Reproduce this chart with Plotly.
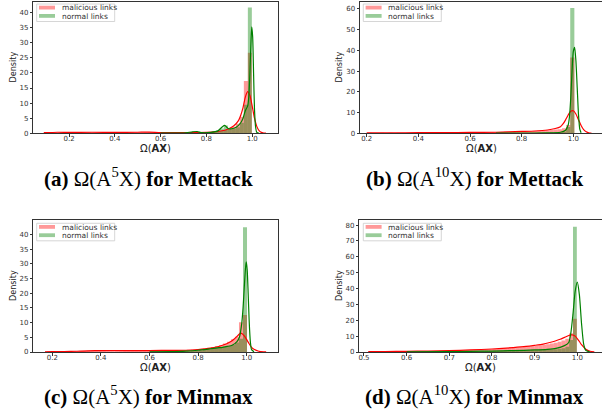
import numpy as np
import plotly.graph_objects as go

W, H = 602, 419

# ---------------- data ----------------
# (a) Omega(A^5 X) for Mettack
a_bin_start, a_bin_width = 0.09725, 0.0175
a_mal_hist = [0.2, 0.3, 0.25, 0.3, 0.35, 0.3, 0.25, 0.3, 0.35, 0.3,
              0.3, 0.35, 0.3, 0.25, 0.3, 0.35, 0.3, 0.3, 0.25, 0.3,
              0.35, 0.3, 0.3, 0.35, 0.3, 0.35, 0.4, 0.35, 0.3, 0.25,
              0.2, 0.25, 0.2, 0.2, 0.25, 0.2, 0.25, 0.3, 0.3, 0.3,
              0.35, 0.4, 0.5, 0.6, 0.8, 1.1, 1.6, 2.2, 3.2, 5.5, 17.3, 26.7]
a_nor_hist = [0] * 34 + [0.05, 0.1, 0.3, 0.6, 0.3, 0.1,
              0.2, 0.3, 0.6, 1.0, 1.6, 2.6, 1.6, 1.5, 2.0, 3.5, 9.5, 41.7]
a_mal_kde_x = [0.09, 0.15, 0.2, 0.3, 0.4, 0.5, 0.55, 0.6, 0.7, 0.8, 0.85, 0.88, 0.9, 0.92, 0.94,
               0.95, 0.96, 0.97, 0.98, 0.99, 1.0, 1.01, 1.02, 1.03, 1.04, 1.05, 1.06]
a_mal_kde_y = [0.2, 0.35, 0.3, 0.35, 0.3, 0.35, 0.4, 0.25, 0.2, 0.3, 0.6, 1.0, 1.6, 2.5, 4.2,
               6.0, 8.5, 12.0, 13.8, 12.5, 9.0, 5.0, 2.3, 0.9, 0.3, 0.1, 0.03]
a_nor_kde_x = [0.6, 0.7, 0.74, 0.76, 0.78, 0.82, 0.85, 0.87, 0.88, 0.895, 0.91, 0.93, 0.95, 0.96,
               0.97, 0.98, 0.985, 0.99, 0.995, 0.998, 1.002, 1.006, 1.01, 1.015, 1.02, 1.03]
a_nor_kde_y = [0.05, 0.1, 0.5, 0.6, 0.2, 0.3, 0.8, 2.2, 2.6, 1.6, 1.5, 2.0, 3.5, 5.0,
               7.5, 9.0, 12.0, 20.0, 31.0, 35.3, 32.0, 20.0, 8.0, 2.0, 0.3, 0.0]

# (b) Omega(A^10 X) for Mettack
b_bin_start, b_bin_width = 0.196, 0.016
b_mal_hist = [0.2, 0.25, 0.2, 0.2, 0.25, 0.2, 0.25, 0.2, 0.25, 0.3,
              0.25, 0.3, 0.25, 0.3, 0.3, 0.35, 0.3, 0.3, 0.35, 0.3,
              0.35, 0.4, 0.35, 0.4, 0.4, 0.45, 0.4, 0.45, 0.5, 0.5,
              0.55, 0.6, 0.6, 0.65, 0.7, 0.8, 0.8, 0.85, 0.9, 1.0,
              1.0, 1.1, 1.2, 1.3, 1.5, 1.6, 1.8, 2.0, 2.4, 4.0, 36.6]
b_nor_hist = [0] * 32 + [0.05, 0.05, 0.1, 0.1, 0.1, 0.15, 0.15, 0.2,
              0.2, 0.2, 0.25, 0.3, 0.3, 0.35, 0.4, 0.5, 0.8, 3.0, 60.5]
b_mal_kde_x = [0.2, 0.3, 0.4, 0.5, 0.6, 0.7, 0.75, 0.8, 0.85, 0.9, 0.93, 0.95, 0.96, 0.97, 0.98,
               0.99, 1.0, 1.01, 1.02, 1.03, 1.04, 1.05, 1.06, 1.07]
b_mal_kde_y = [0.2, 0.25, 0.3, 0.35, 0.4, 0.5, 0.7, 0.9, 1.1, 1.6, 2.3, 3.2, 4.5, 6.5, 8.8,
               10.6, 10.9, 9.3, 6.5, 3.8, 1.8, 0.7, 0.2, 0.05]
b_nor_kde_x = [0.7, 0.8, 0.9, 0.95, 0.97, 0.98, 0.985, 0.99, 0.995, 1.0, 1.005, 1.01, 1.015,
               1.02, 1.025, 1.03]
b_nor_kde_y = [0.05, 0.1, 0.2, 0.5, 1.5, 4.0, 8.0, 17.0, 30.0, 39.5, 41.5, 35.0, 22.0,
               9.0, 2.0, 0.3]

# (c) Omega(A^5 X) for Minmax
c_bin_start, c_bin_width = 0.1845, 0.0165
c_mal_hist = [0.05, 0.1, 0.1, 0.15, 0.15, 0.2, 0.2, 0.3, 0.4, 0.45,
              0.5, 0.5, 0.55, 0.5, 0.5, 0.55, 0.5, 0.5, 0.55, 0.5,
              0.5, 0.55, 0.5, 0.5, 0.55, 0.5, 0.5, 0.55, 0.5, 0.5,
              0.55, 0.6, 0.6, 0.65, 0.7, 0.8, 0.85, 0.9, 1.0, 1.2,
              1.4, 1.7, 2.0, 2.4, 2.9, 3.5, 4.3, 5.2, 10.1, 12.6]
c_nor_hist = [0] * 30 + [0.05, 0.1, 0.1, 0.15, 0.2, 0.25, 0.3, 0.4, 0.5, 0.7,
              1.0, 1.3, 1.5, 1.6, 1.8, 2.0, 2.4, 3.2, 4.5, 42.4]
c_mal_kde_x = [0.17, 0.2, 0.25, 0.3, 0.35, 0.4, 0.5, 0.6, 0.7, 0.75, 0.8, 0.85, 0.88, 0.9, 0.92,
               0.94, 0.95, 0.96, 0.97, 0.975, 0.98, 0.99, 1.0, 1.01, 1.02, 1.03, 1.05, 1.07, 1.08]
c_mal_kde_y = [0.05, 0.1, 0.15, 0.25, 0.4, 0.5, 0.5, 0.5, 0.55, 0.6, 0.85, 1.3, 1.8, 2.3, 2.9,
               3.8, 4.5, 5.3, 6.1, 6.4, 6.3, 5.5, 4.2, 2.8, 1.6, 0.9, 0.25, 0.05, 0.02]
c_nor_kde_x = [0.6, 0.7, 0.75, 0.8, 0.85, 0.88, 0.9, 0.92, 0.94, 0.96, 0.97, 0.98, 0.985, 0.99,
               0.995, 0.998, 1.002, 1.006, 1.01, 1.015, 1.02, 1.03]
c_nor_kde_y = [0.05, 0.15, 0.3, 0.6, 1.1, 1.4, 1.6, 1.9, 2.3, 3.5, 5.0, 10.0, 15.0, 22.0,
               28.5, 30.7, 28.0, 20.0, 11.0, 3.5, 0.8, 0.05]

# (d) Omega(A^10 X) for Minmax
d_bin_start, d_bin_width = 0.5175, 0.009
d_mal_hist = [0.2, 0.25, 0.2, 0.3, 0.25, 0.3, 0.3, 0.35, 0.3, 0.4,
              0.4, 0.45, 0.5, 0.5, 0.55, 0.6, 0.65, 0.7, 0.75, 0.8,
              0.85, 0.9, 1.0, 1.05, 1.1, 1.2, 1.3, 1.4, 1.5, 1.6,
              1.7, 1.8, 1.9, 2.0, 2.2, 2.3, 2.5, 2.6, 2.8, 3.0,
              3.2, 3.4, 3.6, 3.9, 4.2, 4.5, 4.9, 5.3, 5.8, 6.4,
              7.2, 8.4, 11.8, 20.9]
d_nor_hist = [0, 0, 0, 0, 0.05, 0.05, 0.05, 0.1, 0.1, 0.1,
              0.1, 0.15, 0.15, 0.2, 0.2, 0.25, 0.25, 0.3, 0.3, 0.35,
              0.35, 0.4, 0.4, 0.45, 0.5, 0.5, 0.55, 0.6, 0.6, 0.65,
              0.7, 0.7, 0.75, 0.8, 0.85, 0.9, 0.9, 0.95, 1.0, 1.05,
              1.1, 1.15, 1.2, 1.3, 1.35, 1.4, 1.5, 1.6, 1.8, 2.0,
              2.4, 3.3, 7.5, 79.0]
d_mal_kde_x = [0.51, 0.55, 0.6, 0.65, 0.7, 0.75, 0.8, 0.85, 0.88, 0.9, 0.92, 0.94, 0.95, 0.96,
               0.97, 0.98, 0.985, 0.99, 0.995, 1.0, 1.005, 1.01, 1.02, 1.03, 1.04]
d_mal_kde_y = [0.2, 0.3, 0.4, 0.6, 0.85, 1.3, 1.9, 2.8, 3.5, 4.2, 5.0, 6.3, 7.1, 8.0,
               9.2, 10.4, 10.8, 10.7, 10.0, 8.5, 6.6, 4.6, 1.8, 0.5, 0.1]
d_nor_kde_x = [0.6, 0.7, 0.75, 0.8, 0.85, 0.9, 0.93, 0.95, 0.97, 0.98, 0.985, 0.99, 0.995, 1.0,
               1.005, 1.01, 1.015, 1.02, 1.03]
d_nor_kde_y = [0.05, 0.2, 0.4, 0.6, 0.9, 1.3, 1.7, 2.3, 4.0, 6.0, 12.0, 24.0, 38.0, 44.0,
               36.0, 18.0, 5.0, 1.0, 0.0]

x_ticks_abc = [0.2, 0.4, 0.6, 0.8, 1.0]
x_ticks_d = [0.5, 0.6, 0.7, 0.8, 0.9, 1.0]
legend_labels = ["malicious links", "normal links"]
captions = ["<b>(a)</b> Ω(A<sup>5</sup>X) <b>for Mettack</b>",
            "<b>(b)</b> Ω(A<sup>10</sup>X) <b>for Mettack</b>",
            "<b>(c)</b> Ω(A<sup>5</sup>X) <b>for Minmax</b>",
            "<b>(d)</b> Ω(A<sup>10</sup>X) <b>for Minmax</b>"]
x_title = "Ω(<b>AX</b>)"
y_title = "Density"

# ---------------- layout (page pixels) ----------------
panels = [
    dict(bin_start=a_bin_start, bin_width=a_bin_width, mal=a_mal_hist, nor=a_nor_hist,
         mkx=a_mal_kde_x, mky=a_mal_kde_y, nkx=a_nor_kde_x, nky=a_nor_kde_y,
         box=(33.3, 278.3, 1.7, 133.3), xr=[0.044, 1.114], yr=[0, 43.6],
         xt=x_ticks_abc, dy=5, right=True, cap=(148, 177), ylab_x=13, leg=(36.7, 4)),
    dict(bin_start=b_bin_start, bin_width=b_bin_width, mal=b_mal_hist, nor=b_nor_hist,
         mkx=b_mal_kde_x, mky=b_mal_kde_y, nkx=b_nor_kde_x, nky=b_nor_kde_y,
         box=(360, 602, 1.7, 133.3), xr=[0.174, 1.111], yr=[0, 63.5],
         xt=x_ticks_abc, dy=10, right=False, cap=(474, 177), ylab_x=339, leg=(363.3, 4)),
    dict(bin_start=c_bin_start, bin_width=c_bin_width, mal=c_mal_hist, nor=c_nor_hist,
         mkx=c_mal_kde_x, mky=c_mal_kde_y, nkx=c_nor_kde_x, nky=c_nor_kde_y,
         box=(33.3, 278.3, 220, 352), xr=[0.122, 1.13], yr=[0, 44.9],
         xt=x_ticks_abc, dy=5, right=True, cap=(148, 395), ylab_x=13, leg=(36.7, 223.3)),
    dict(bin_start=d_bin_start, bin_width=d_bin_width, mal=d_mal_hist, nor=d_nor_hist,
         mkx=d_mal_kde_x, mky=d_mal_kde_y, nkx=d_nor_kde_x, nky=d_nor_kde_y,
         box=(359.3, 602, 220, 352), xr=[0.489, 1.058], yr=[0, 83.2],
         xt=x_ticks_d, dy=10, right=False, cap=(474, 395), ylab_x=339, leg=(363.3, 223.3)),
]

RED_FILL = "rgba(255,0,0,0.4)"
GREEN_FILL = "rgba(0,128,0,0.4)"
RED_LINE = "rgb(255,0,0)"
GREEN_LINE = "rgb(0,128,0)"
AX_COL = "#333333"
TICK_FONT = dict(family="DejaVu Sans", size=7, color="#333333")


def px_x(v):
    return v / W


def px_y(v):
    return 1 - v / H


fig = go.Figure()
layout = dict(width=W, height=H, margin=dict(l=0, r=0, t=0, b=0, autoexpand=False),
              paper_bgcolor="white", plot_bgcolor="white", barmode="overlay",
              showlegend=False, shapes=[], annotations=[])

for i, p in enumerate(panels):
    n = "" if i == 0 else str(i + 1)
    xa, ya = "x" + n, "y" + n
    centers_m = p["bin_start"] + p["bin_width"] * np.arange(len(p["mal"]))
    centers_n = p["bin_start"] + p["bin_width"] * np.arange(len(p["nor"]))
    fig.add_trace(go.Bar(x=centers_m, y=p["mal"], width=p["bin_width"], marker_color=RED_FILL,
                         marker_line_width=0, xaxis=xa, yaxis=ya, name=legend_labels[0]))
    fig.add_trace(go.Bar(x=centers_n, y=p["nor"], width=p["bin_width"], marker_color=GREEN_FILL,
                         marker_line_width=0, xaxis=xa, yaxis=ya, name=legend_labels[1]))
    fig.add_trace(go.Scatter(x=p["mkx"], y=p["mky"], mode="lines",
                             line=dict(color=RED_LINE, width=1.2, shape="spline", smoothing=0.6),
                             xaxis=xa, yaxis=ya))
    fig.add_trace(go.Scatter(x=p["nkx"], y=p["nky"], mode="lines",
                             line=dict(color=GREEN_LINE, width=1.2, shape="spline", smoothing=0.6),
                             xaxis=xa, yaxis=ya))

    x0, x1, y0, y1 = p["box"]
    layout["xaxis" + n] = dict(domain=[max(0, px_x(x0)), min(1, px_x(x1))], range=p["xr"],
                               anchor=ya,
                               tickvals=p["xt"], ticktext=[f"{t:.1f}" for t in p["xt"]],
                               ticks="outside", ticklen=2.5, tickwidth=0.8, tickcolor=AX_COL,
                               ticklabelstandoff=-4,
                               showline=True, linecolor=AX_COL, linewidth=1, mirror=True,
                               showgrid=False, zeroline=False, tickfont=TICK_FONT)
    layout["yaxis" + n] = dict(domain=[max(0, px_y(y1)), min(1, px_y(y0))], range=p["yr"],
                               anchor=xa, dtick=p["dy"], tick0=0,
                               ticks="outside", ticklen=2.5, tickwidth=0.8, tickcolor=AX_COL,
                               showline=True, linecolor=AX_COL, linewidth=1, mirror=p["right"],
                               showgrid=False, zeroline=False, tickfont=TICK_FONT)

    # axis titles
    layout["annotations"].append(dict(text=x_title, xref="paper", yref="paper",
                                      x=px_x((x0 + x1) / 2), y=px_y(y1 + 15.5), showarrow=False,
                                      xanchor="center", yanchor="middle",
                                      font=dict(family="DejaVu Sans", size=10, color="#222")))
    layout["annotations"].append(dict(text=y_title, xref="paper", yref="paper", textangle=-90,
                                      x=px_x(p["ylab_x"]), y=px_y((y0 + y1) / 2), showarrow=False,
                                      xanchor="center", yanchor="middle",
                                      font=dict(family="DejaVu Sans Condensed, DejaVu Sans",
                                                size=9, color="#222")))
    # caption
    cx, cy = p["cap"]
    layout["annotations"].append(dict(text=captions[i], xref="paper", yref="paper",
                                      x=px_x(cx), y=px_y(cy), showarrow=False,
                                      xanchor="center", yanchor="middle",
                                      font=dict(family="Liberation Serif", size=21, color="black")))
    # legend box
    lx, ly = p["leg"]
    layout["shapes"].append(dict(type="rect", xref="paper", yref="paper",
                                 x0=px_x(lx), x1=px_x(lx + 78), y0=px_y(ly), y1=px_y(ly + 17.5),
                                 line=dict(color="#cccccc", width=0.8),
                                 fillcolor="rgba(255,255,255,0.8)"))
    for k, (fill, lab) in enumerate(zip([RED_FILL, GREEN_FILL], legend_labels)):
        ry = ly + 1.7 + k * 8.3
        layout["shapes"].append(dict(type="rect", xref="paper", yref="paper",
                                     x0=px_x(lx + 2.3), x1=px_x(lx + 18.3),
                                     y0=px_y(ry), y1=px_y(ry + 3.8),
                                     line=dict(width=0), fillcolor=fill))
        layout["annotations"].append(dict(text=lab, xref="paper", yref="paper",
                                          x=px_x(lx + 23), y=px_y(ry + 2), showarrow=False,
                                          xanchor="left", yanchor="middle",
                                          font=dict(family="DejaVu Sans", size=7.5, color="#333")))

fig.update_layout(**layout)
# The default page body has an 8px margin; remove it so the figure fills the window.
fig.write_html("out.html", config={"displayModeBar": False},
               post_script="document.body.style.margin='0px';")
